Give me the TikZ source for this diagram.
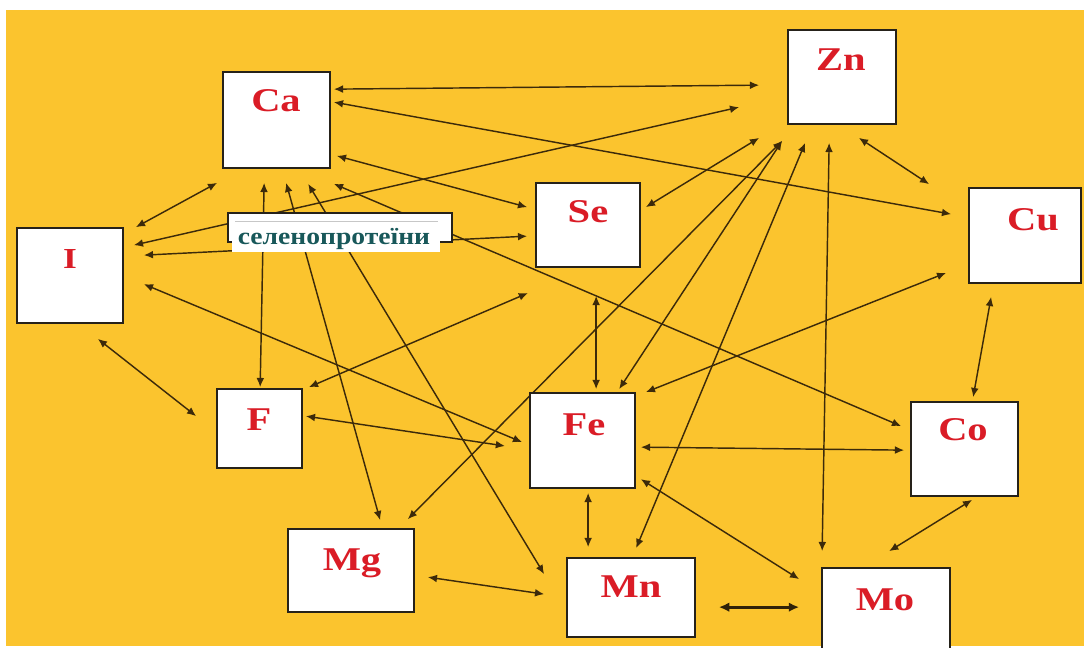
\documentclass[tikz,border=0pt]{standalone}
\usepackage{fontspec}
\usepackage{graphicx}
\setmainfont{Liberation Serif}
\usetikzlibrary{arrows.meta,fit}

\definecolor{bgorange}{RGB}{251,196,46}
\definecolor{linkbrown}{RGB}{60,42,10}
\definecolor{elemred}{RGB}{218,28,38}
\definecolor{tealtext}{RGB}{24,88,90}
\definecolor{boxedge}{RGB}{38,34,26}

\newcommand{\elname}[1]{\scalebox{1.22}[1]{#1}}

\pgfdeclarelayer{back}
\pgfdeclarelayer{links}
\pgfsetlayers{back,links,main}

\begin{document}
\begin{tikzpicture}[x=0.5pt,y=-0.5pt,
  >={Latex[length=4.6pt,width=3.9pt]},
  elbox/.style={draw=boxedge, line width=0.85pt, fill=white, inner sep=0pt},
  elabel/.style={anchor=base, inner sep=0pt, text=elemred,
    font=\fontsize{16.6}{18}\selectfont\bfseries},
  link/.style={draw=linkbrown, line width=0.72pt, <->},
  heavylink/.style={draw=linkbrown!80!black, line width=1.6pt,
    {Latex[length=5.2pt,width=4.8pt]}-{Latex[length=5.2pt,width=4.8pt]}}]

\useasboundingbox (0,0) rectangle (1084,648);

% element boxes
\node[elbox, fit={(223,72) (330,168)}]  (Ca) {};
\node[elbox, fit={(788,30) (896,124)}]  (Zn) {};
\node[elbox, fit={(536,183) (640,267)}] (Se) {};
\node[elbox, fit={(969,188) (1081,283)}] (Cu) {};
\node[elbox, fit={(17,228) (123,323)}]  (I) {};
\node[elbox, fit={(217,389) (302,468)}] (F) {};
\node[elbox, fit={(530,393) (635,488)}] (Fe) {};
\node[elbox, fit={(911,402) (1018,496)}] (Co) {};
\node[elbox, fit={(288,529) (414,612)}] (Mg) {};
\node[elbox, fit={(567,558) (695,637)}] (Mn) {};
\node[elbox, fit={(822,568) (950,652)}] (Mo) {};

% element symbols
\node[elabel] (CaL) at (276,112)  {\elname{Ca}};
\node[elabel] (ZnL) at (841,70)   {\elname{Zn}};
\node[elabel] (SeL) at (588,222)  {\elname{Se}};
\node[elabel] (CuL) at (1033,230) {\elname{Cu}};
\node[elabel, font=\fontsize{14.5}{15}\selectfont\bfseries] (IL) at (70,268) {\elname{I}};
\node[elabel] (FL)  at (259,430)  {\elname{F}};
\node[elabel] (FeL) at (584,435)  {\elname{Fe}};
\node[elabel] (CoL) at (963,440)  {\elname{Co}};
\node[elabel] (MgL) at (352,570)  {\elname{Mg}};
\node[elabel] (MnL) at (631,597)  {\elname{Mn}};
\node[elabel] (MoL) at (885,610)  {\elname{Mo}};

% selenoprotein caption box
\node[draw=boxedge, line width=0.6pt, fill=white, inner sep=0pt,
      fit={(228,213) (452,242)}] (selbox) {};
\node[fill=white, inner sep=0pt, fit={(232,226) (440,252)}] (selfill) {};
\draw[black!22, line width=0.6pt]
  ([shift={(8,9)}]selbox.north west) -- ([shift={(-15,9)}]selbox.north east);
\node[anchor=base, inner sep=0pt, text=tealtext,
      font=\fontsize{11.5}{12}\selectfont\bfseries]
      (seltext) at (334,244) {\scalebox{1.2}[1.05]{селенопротеїни}};

% free ends
\coordinate (sefree) at (528,293);
\coordinate (fefree) at (505,446);

\begin{pgfonlayer}{back}
  \fill[white] (0,0) rectangle (1084,648);
  \fill[bgorange] (6,10) rectangle (1084,646);
\end{pgfonlayer}

\begin{pgfonlayer}{links}
  % calcium
  \draw[link] ([shift={(3,18)}]Ca.north east) -- ([shift={(-28,56)}]Zn.north west);
  \draw[link] ([shift={(3,31)}]Ca.north east) -- ([shift={(-17,27)}]Cu.north west);
  \draw[link] ([shift={(6,-13)}]Ca.south east) -- ([shift={(-8,25)}]Se.north west);
  \draw[link] ([shift={(12,0)}]I.north east) -- ([shift={(-5,14)}]Ca.south west);
  \draw[link] ([shift={(42,14)}]Ca.south west) -- ([shift={(44,-1)}]F.north west);
  \draw[link] ([shift={(64,14)}]Ca.south west) -- ([shift={(93,-8)}]Mg.north west);
  \draw[link] ([shift={(86,15)}]Ca.south west) -- ([shift={(-22,17)}]Mn.north west);
  \draw[link] ([shift={(3,15)}]Ca.south east) -- ([shift={(-9,25)}]Co.north west);
  % iodine
  \draw[link] ([shift={(10,18)}]I.north east) -- ([shift={(-48,78)}]Zn.north west);
  \draw[link] ([shift={(20,28)}]I.north east) -- ([shift={(-8,54)}]Se.north west);
  \draw[link] ([shift={(20,57)}]I.north east) -- ([shift={(-7,50)}]Fe.north west);
  \draw[link] ([shift={(-26,15)}]I.south east) -- ([shift={(-20,28)}]F.north west);
  % zinc
  \draw[link] ([shift={(-28,13)}]Zn.south west) -- ([shift={(5,25)}]Se.north east);
  \draw[link] ([shift={(-5,16)}]Zn.south west) -- ([shift={(90,-3)}]Fe.north west);
  \draw[link] ([shift={(-5,16)}]Zn.south west) -- ([shift={(-7,-9)}]Mg.north east);
  \draw[link] ([shift={(18,18)}]Zn.south west) -- ([shift={(70,-9)}]Mn.north west);
  \draw[link] ([shift={(42,18)}]Zn.south west) -- ([shift={(1,-16)}]Mo.north west);
  \draw[link] ([shift={(-38,13)}]Zn.south east) -- ([shift={(-39,-3)}]Cu.north west);
  % copper, cobalt
  \draw[link] ([shift={(10,0)}]Fe.north east) -- ([shift={(-22,-11)}]Cu.south west);
  \draw[link] ([shift={(23,13)}]Cu.south west) -- ([shift={(63,-4)}]Co.north west);
  \draw[link] ([shift={(62,3)}]Co.south west) -- ([shift={(68,-16)}]Mo.north west);
  % selenium, fluorine
  \draw[link] ([shift={(61,28)}]Se.south west) -- ([shift={(67,-3)}]Fe.north west);
  \draw[link] ([shift={(6,-1)}]F.north east) -- (sefree);
  \draw[link] ([shift={(3,28)}]F.north east) -- (fefree);
  % iron, manganese, molybdenum
  \draw[link] ([shift={(5,55)}]Fe.north east) -- ([shift={(-6,49)}]Co.north west);
  \draw[link] ([shift={(5,87)}]Fe.north east) -- ([shift={(-22,12)}]Mo.north west);
  \draw[link] ([shift={(59,4)}]Fe.south west) -- ([shift={(22,-10)}]Mn.north west);
  \draw[link] ([shift={(13,49)}]Mg.north east) -- ([shift={(-22,37)}]Mn.north west);
  \draw[heavylink] ([shift={(23,50)}]Mn.north east) -- ([shift={(-22,40)}]Mo.north west);
\end{pgfonlayer}

\end{tikzpicture}
\end{document}
